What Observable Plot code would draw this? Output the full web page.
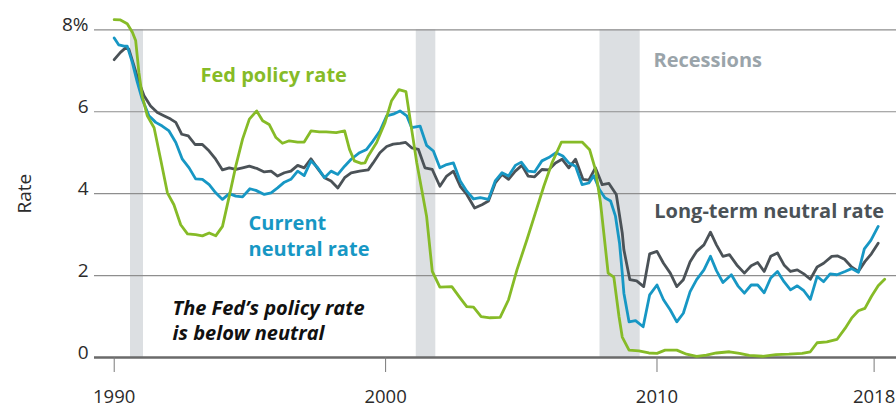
<!DOCTYPE html>
<html>
<head>
<meta charset="utf-8">
<script src="https://cdn.jsdelivr.net/npm/d3@7"></script>
<script src="https://cdn.jsdelivr.net/npm/@observablehq/plot@0.6"></script>
<style>
  html, body { margin: 0; padding: 0; background: #fff; }
  #chart { width: 896px; height: 411px; overflow: hidden; }
</style>
</head>
<body>
<div id="chart"></div>
<script>
// ---- Data ----
const xTicks = [1990, 2000, 2010, 2018];
const yTicks = [0, 2, 4, 6, 8];

const recessions = [
  [1990.6, 1991.08],
  [2001.13, 2001.85],
  [2007.9, 2009.38]
];

const fedPolicyRate = [
  [1990.0, 8.25], [1990.23, 8.24], [1990.48, 8.15], [1990.67, 7.94], [1990.79, 7.74],
  [1990.91, 6.96], [1991.03, 6.39], [1991.22, 5.9], [1991.47, 5.61], [1991.71, 4.84],
  [1991.96, 4.02], [1992.2, 3.73], [1992.45, 3.24], [1992.7, 3.02], [1993.0, 3.0],
  [1993.25, 2.97], [1993.5, 3.04], [1993.74, 2.97], [1993.99, 3.2], [1994.24, 3.94],
  [1994.48, 4.67], [1994.73, 5.33], [1994.98, 5.82], [1995.25, 6.02], [1995.47, 5.78],
  [1995.71, 5.69], [1995.96, 5.37], [1996.2, 5.23], [1996.45, 5.29], [1996.76, 5.26],
  [1997.0, 5.26], [1997.25, 5.53], [1997.56, 5.51], [1997.81, 5.51], [1998.18, 5.49],
  [1998.49, 5.53], [1998.67, 5.08], [1998.85, 4.8], [1999.1, 4.74], [1999.24, 4.75],
  [1999.36, 4.92], [1999.67, 5.25], [1999.98, 5.74], [2000.22, 6.27], [2000.49, 6.54],
  [2000.75, 6.49], [2000.96, 5.57], [2001.15, 4.75], [2001.33, 4.1], [2001.51, 3.45],
  [2001.72, 2.1], [2002.0, 1.72], [2002.44, 1.73], [2002.75, 1.45], [2002.99, 1.24],
  [2003.24, 1.23], [2003.52, 1.0], [2003.85, 0.97], [2004.22, 0.98], [2004.53, 1.41],
  [2004.84, 2.14], [2005.21, 2.88], [2005.52, 3.53], [2005.83, 4.18], [2006.13, 4.75],
  [2006.48, 5.26], [2006.87, 5.26], [2007.24, 5.26], [2007.52, 5.07], [2007.73, 4.59],
  [2007.92, 3.77], [2008.04, 3.04], [2008.2, 2.06], [2008.41, 1.96], [2008.6, 1.0],
  [2008.72, 0.5], [2008.97, 0.18], [2009.33, 0.16], [2009.7, 0.11], [2010.0, 0.1],
  [2010.3, 0.18], [2010.73, 0.18], [2011.09, 0.08], [2011.46, 0.03], [2011.82, 0.06],
  [2012.19, 0.11], [2012.67, 0.14], [2013.04, 0.1], [2013.4, 0.05], [2013.89, 0.03],
  [2014.38, 0.07], [2014.86, 0.08], [2015.35, 0.1], [2015.65, 0.14], [2015.9, 0.36],
  [2016.26, 0.38], [2016.63, 0.44], [2016.93, 0.71], [2017.17, 0.96], [2017.42, 1.14],
  [2017.66, 1.2], [2017.9, 1.49], [2018.15, 1.75], [2018.39, 1.91]
];

const currentNeutralRate = [
  [1990.0, 7.8], [1990.17, 7.63], [1990.36, 7.6], [1990.48, 7.6], [1990.67, 7.2],
  [1990.85, 6.72], [1991.03, 6.31], [1991.28, 5.9], [1991.53, 5.74], [1991.77, 5.65],
  [1992.02, 5.53], [1992.27, 5.25], [1992.51, 4.84], [1992.76, 4.63], [1993.0, 4.36],
  [1993.25, 4.35], [1993.5, 4.22], [1993.74, 4.02], [1993.99, 3.86], [1994.24, 4.0],
  [1994.48, 3.94], [1994.73, 3.92], [1995.0, 4.12], [1995.22, 4.08], [1995.53, 3.98],
  [1995.78, 4.02], [1996.02, 4.14], [1996.27, 4.28], [1996.51, 4.35], [1996.76, 4.55],
  [1997.0, 4.44], [1997.25, 4.8], [1997.5, 4.63], [1997.75, 4.39], [1997.99, 4.55],
  [1998.24, 4.47], [1998.49, 4.67], [1998.73, 4.84], [1999.04, 5.0], [1999.3, 5.08],
  [1999.54, 5.29], [1999.79, 5.53], [2000.04, 5.9], [2000.28, 5.94], [2000.53, 6.02],
  [2000.78, 5.9], [2000.96, 5.61], [2001.27, 5.65], [2001.51, 5.18], [2001.76, 5.04],
  [2002.0, 4.63], [2002.25, 4.71], [2002.5, 4.75], [2002.75, 4.31], [2002.99, 4.06],
  [2003.24, 3.87], [2003.49, 3.9], [2003.79, 3.86], [2004.04, 4.31], [2004.29, 4.51],
  [2004.53, 4.43], [2004.78, 4.69], [2005.0, 4.77], [2005.25, 4.55], [2005.49, 4.53],
  [2005.76, 4.8], [2006.01, 4.88], [2006.28, 5.0], [2006.53, 4.92], [2006.75, 4.75],
  [2007.0, 4.67], [2007.24, 4.22], [2007.49, 4.26], [2007.67, 4.44], [2007.88, 4.1],
  [2008.08, 3.9], [2008.29, 3.82], [2008.47, 3.45], [2008.62, 2.79], [2008.72, 2.06],
  [2008.78, 1.57], [2008.97, 0.87], [2009.21, 0.9], [2009.49, 0.75], [2009.73, 1.53],
  [2010.0, 1.77], [2010.24, 1.41], [2010.49, 1.16], [2010.73, 0.87], [2010.97, 1.08],
  [2011.22, 1.61], [2011.46, 1.9], [2011.73, 2.14], [2011.97, 2.47], [2012.19, 2.12],
  [2012.43, 1.83], [2012.74, 2.02], [2012.98, 1.75], [2013.22, 1.57], [2013.47, 1.77],
  [2013.71, 1.77], [2013.95, 1.58], [2014.19, 1.94], [2014.44, 2.1], [2014.68, 1.85],
  [2014.92, 1.65], [2015.17, 1.75], [2015.41, 1.63], [2015.65, 1.42], [2015.9, 1.98],
  [2016.14, 1.85], [2016.38, 2.04], [2016.63, 2.02], [2016.93, 2.1], [2017.17, 2.17],
  [2017.42, 2.08], [2017.64, 2.65], [2017.88, 2.86], [2018.15, 3.2]
];

const longTermNeutralRate = [
  [1990.0, 7.27], [1990.23, 7.45], [1990.42, 7.56], [1990.54, 7.53], [1990.73, 7.12],
  [1990.91, 6.72], [1991.1, 6.39], [1991.34, 6.14], [1991.59, 5.98], [1991.83, 5.9],
  [1992.08, 5.82], [1992.27, 5.74], [1992.49, 5.45], [1992.73, 5.41], [1992.98, 5.2],
  [1993.25, 5.2], [1993.5, 5.04], [1993.74, 4.84], [1993.99, 4.58], [1994.24, 4.63],
  [1994.48, 4.59], [1994.73, 4.63], [1994.98, 4.67], [1995.28, 4.61], [1995.53, 4.53],
  [1995.78, 4.55], [1996.02, 4.43], [1996.27, 4.51], [1996.51, 4.55], [1996.76, 4.69],
  [1997.0, 4.63], [1997.25, 4.85], [1997.5, 4.61], [1997.75, 4.39], [1997.99, 4.31],
  [1998.24, 4.14], [1998.49, 4.39], [1998.73, 4.51], [1999.04, 4.55], [1999.36, 4.58],
  [1999.54, 4.75], [1999.79, 5.0], [2000.04, 5.15], [2000.28, 5.21], [2000.53, 5.23],
  [2000.74, 5.25], [2000.96, 5.12], [2001.21, 5.08], [2001.45, 4.63], [2001.72, 4.59],
  [2002.0, 4.18], [2002.25, 4.43], [2002.5, 4.55], [2002.75, 4.18], [2002.99, 3.98],
  [2003.28, 3.65], [2003.55, 3.73], [2003.79, 3.82], [2004.04, 4.26], [2004.29, 4.47],
  [2004.53, 4.35], [2004.78, 4.55], [2005.02, 4.69], [2005.25, 4.43], [2005.49, 4.41],
  [2005.76, 4.59], [2006.01, 4.58], [2006.26, 4.75], [2006.5, 4.84], [2006.75, 4.63],
  [2007.0, 4.84], [2007.27, 4.35], [2007.49, 4.33], [2007.73, 4.63], [2007.98, 4.22],
  [2008.23, 4.25], [2008.5, 3.98], [2008.72, 3.04], [2008.78, 2.63], [2009.0, 1.9],
  [2009.25, 1.87], [2009.51, 1.73], [2009.73, 2.53], [2010.0, 2.59], [2010.24, 2.3],
  [2010.49, 2.06], [2010.73, 1.73], [2010.97, 1.9], [2011.22, 2.34], [2011.46, 2.59],
  [2011.73, 2.75], [2011.97, 3.06], [2012.19, 2.75], [2012.43, 2.47], [2012.67, 2.51],
  [2012.94, 2.26], [2013.22, 2.06], [2013.47, 2.24], [2013.71, 2.32], [2013.95, 2.1],
  [2014.19, 2.47], [2014.44, 2.55], [2014.68, 2.26], [2014.92, 2.1], [2015.17, 2.14],
  [2015.41, 2.04], [2015.65, 1.91], [2015.9, 2.21], [2016.14, 2.3], [2016.44, 2.47],
  [2016.66, 2.48], [2016.91, 2.4], [2017.17, 2.21], [2017.42, 2.1], [2017.66, 2.34],
  [2017.9, 2.53], [2018.15, 2.79]
];

// Annotation texts (anchored in data units)
const seriesLabels = [
  {text: "Fed policy rate", x: 1993.18, y: 6.94, color: "#86bb27"},
  {text: "Current\nneutral rate", x: 1994.95, y: 3.0, color: "#1797c4"},
  {text: "Long-term neutral rate", x: 2009.9, y: 3.61, color: "#4b5257"}
];
const recessionLabel = [{text: "Recessions", x: 2009.87, y: 7.25}];
const noteLabel = [{text: "The Fed\u2019s policy rate\nis below neutral", x: 1992.15, y: 0.92}];

// ---- Chart ----
const GREEN = "#86bb27", BLUE = "#1797c4", GRAY = "#4b5257";
const FONT = "'Open Sans', Lato, sans-serif";

const chart = Plot.plot({
  width: 896,
  height: 411,
  marginLeft: 94,
  marginRight: 0,
  marginTop: 29.3,
  marginBottom: 54,
  style: {fontFamily: FONT, background: "#fff", overflow: "visible"},
  x: {domain: [1989.274, 2018.825]},
  y: {domain: [0, 8]},
  marks: [
    Plot.rect(recessions, {x1: d => d[0], x2: d => d[1], y1: 0, y2: 8, fill: "#dcdfe2"}),
    Plot.ruleY(yTicks.filter(d => d > 0), {stroke: "#8e8e8e", strokeWidth: 1.2}),
    Plot.ruleY([0], {stroke: "#6a6a6a", strokeWidth: 2.7}),
    Plot.axisX({
      ticks: xTicks, tickSize: 15, tickPadding: 17, tickFormat: d => String(d),
      stroke: "#7a7a7a", fontSize: 18.5, fill: "#2b2b2b", label: null
    }),
    Plot.axisY({
      ticks: yTicks, tickSize: 0, tickPadding: 6, dy: -5,
      tickFormat: d => d === 8 ? "8%" : String(d),
      fontSize: 19, fill: "#2b2b2b",
      label: "Rate", labelAnchor: "center", labelArrow: "none", labelOffset: 77
    }),
    Plot.line(longTermNeutralRate, {x: d => d[0], y: d => d[1], stroke: GRAY, strokeWidth: 2.8}),
    Plot.line(currentNeutralRate, {x: d => d[0], y: d => d[1], stroke: BLUE, strokeWidth: 2.8}),
    Plot.line(fedPolicyRate, {x: d => d[0], y: d => d[1], stroke: GREEN, strokeWidth: 2.8}),
    Plot.text(seriesLabels, {
      x: "x", y: "y", text: "text", fill: d => d.color,
      textAnchor: "start", lineAnchor: "middle", fontSize: 20, fontWeight: 700, lineHeight: 1.3
    }),
    Plot.text(recessionLabel, {
      x: "x", y: "y", text: "text", fill: "#9aa4aa",
      textAnchor: "start", lineAnchor: "middle", fontSize: 20, fontWeight: 700
    }),
    Plot.text(noteLabel, {
      x: "x", y: "y", text: "text", fill: "#111",
      textAnchor: "start", lineAnchor: "middle", fontSize: 20, fontWeight: 700,
      fontStyle: "italic", lineHeight: 1.25
    })
  ]
});

document.getElementById("chart").appendChild(chart);
</script>
</body>
</html>
